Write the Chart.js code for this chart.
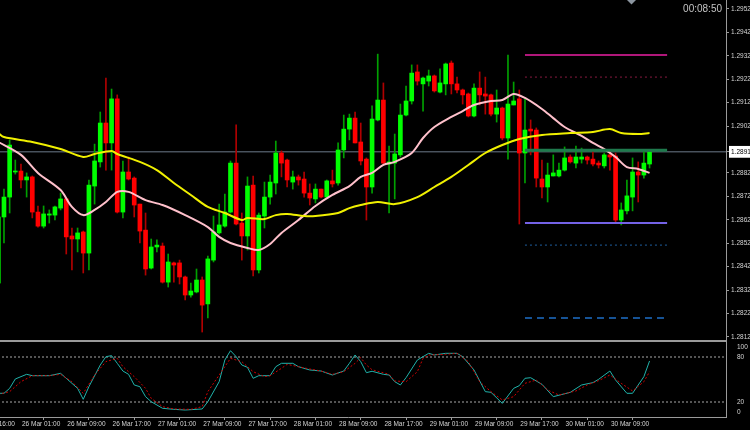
<!DOCTYPE html>
<html lang="en">
<head>
    <meta charset="UTF-8">
    <title>H1 chart</title>
    <script src="https://cdn.jsdelivr.net/npm/chart.js@4.4.1/dist/chart.umd.min.js"></script>
    <style>
        body { margin: 0; background: #000; }
        #wrap { position: relative; width: 750px; height: 430px; overflow: hidden; background: #000; }
        /* canvas is 30px wider on the left so the first, cut-off time label can be drawn */
        #box { position: absolute; left: -30px; top: 0; width: 780px; height: 430px; }
    </style>
</head>
<body>
<div id="wrap"><div id="box"><canvas id="myChart" width="780" height="430"></canvas></div></div>

<script type="text/javascript">

    // hourly candles, bar 0 .. 115
    var opens = [1.28350, 1.28632, 1.28717, 1.28824, 1.28828, 1.28790, 1.28803, 1.28653, 1.28593, 1.28640,
        1.28640, 1.28670, 1.28709, 1.28551, 1.28538, 1.28568, 1.28478, 1.28764, 1.28867, 1.29033,
        1.28948, 1.29136, 1.28653, 1.28824, 1.28798, 1.28687, 1.28576, 1.28414, 1.28504, 1.28508,
        1.28354, 1.28436, 1.28436, 1.28376, 1.28299, 1.28312, 1.28363, 1.28261, 1.28448, 1.28564,
        1.28593, 1.28653, 1.28862, 1.28606, 1.28551, 1.28768, 1.28406, 1.28636, 1.28717, 1.28777,
        1.28905, 1.28875, 1.28781, 1.28803, 1.28794, 1.28734, 1.28709, 1.28751, 1.28717, 1.28786,
        1.28777, 1.28918, 1.29007, 1.29054, 1.28952, 1.28879, 1.28760, 1.29046, 1.29131, 1.28858,
        1.28862, 1.28897, 1.29067, 1.29127, 1.29251, 1.29200, 1.29212, 1.29234, 1.29165, 1.29200,
        1.29289, 1.29200, 1.29174, 1.29157, 1.29063, 1.29182, 1.29157, 1.29153, 1.29071, 1.29097,
        1.28969, 1.29110, 1.29136, 1.28905, 1.29007, 1.29003, 1.28794, 1.28760, 1.28807, 1.28807,
        1.28832, 1.28888, 1.28862, 1.28879, 1.28888, 1.28879, 1.28862, 1.28850, 1.28897, 1.28892,
        1.28619, 1.28658, 1.28717, 1.28824, 1.28811, 1.28858];
    var highs = [1.28653, 1.28751, 1.28961, 1.28875, 1.28858, 1.28820, 1.28807, 1.28679, 1.28679, 1.28662,
        1.28679, 1.28734, 1.28713, 1.28585, 1.28585, 1.28572, 1.28790, 1.28943, 1.29080, 1.29225,
        1.29178, 1.29153, 1.28871, 1.28888, 1.28803, 1.28687, 1.28649, 1.28538, 1.28534, 1.28521,
        1.28474, 1.28440, 1.28448, 1.28380, 1.28350, 1.28410, 1.28376, 1.28465, 1.28636, 1.28687,
        1.28730, 1.28871, 1.29025, 1.28649, 1.28803, 1.28807, 1.28649, 1.28781, 1.28811, 1.28956,
        1.28914, 1.28879, 1.28828, 1.28811, 1.28824, 1.28773, 1.28773, 1.28751, 1.28790, 1.28832,
        1.28948, 1.29067, 1.29071, 1.29080, 1.29033, 1.28884, 1.29106, 1.29327, 1.29204, 1.28935,
        1.28986, 1.29114, 1.29191, 1.29281, 1.29281, 1.29229, 1.29259, 1.29238, 1.29264, 1.29289,
        1.29298, 1.29229, 1.29178, 1.29161, 1.29200, 1.29251, 1.29229, 1.29157, 1.29174, 1.29101,
        1.29323, 1.29208, 1.29174, 1.29136, 1.29046, 1.29012, 1.28875, 1.28862, 1.28897, 1.28862,
        1.28931, 1.28897, 1.28935, 1.28926, 1.28892, 1.28922, 1.28871, 1.28905, 1.28909, 1.28905,
        1.28692, 1.28790, 1.28884, 1.28867, 1.28914, 1.28918];
    var lows = [1.28329, 1.28521, 1.28649, 1.28815, 1.28756, 1.28717, 1.28628, 1.28589, 1.28585, 1.28606,
        1.28619, 1.28662, 1.28474, 1.28406, 1.28483, 1.28393, 1.28406, 1.28687, 1.28845, 1.28832,
        1.28832, 1.28649, 1.28628, 1.28790, 1.28632, 1.28521, 1.28384, 1.28410, 1.28483, 1.28350,
        1.28333, 1.28354, 1.28346, 1.28278, 1.28290, 1.28308, 1.28141, 1.28201, 1.28440, 1.28559,
        1.28589, 1.28649, 1.28598, 1.28448, 1.28491, 1.28380, 1.28393, 1.28585, 1.28687, 1.28730,
        1.28803, 1.28760, 1.28751, 1.28768, 1.28717, 1.28683, 1.28692, 1.28713, 1.28713, 1.28760,
        1.28768, 1.28884, 1.28961, 1.28948, 1.28854, 1.28619, 1.28734, 1.29042, 1.28854, 1.28649,
        1.28709, 1.28888, 1.29063, 1.29114, 1.29195, 1.29084, 1.29191, 1.29165, 1.29161, 1.29153,
        1.29157, 1.29161, 1.29114, 1.29059, 1.29059, 1.29110, 1.29071, 1.29063, 1.29037, 1.28961,
        1.28879, 1.29110, 1.28602, 1.28777, 1.28897, 1.28760, 1.28713, 1.28696, 1.28807, 1.28803,
        1.28828, 1.28862, 1.28841, 1.28862, 1.28858, 1.28850, 1.28841, 1.28841, 1.28832, 1.28611,
        1.28598, 1.28645, 1.28658, 1.28696, 1.28798, 1.28841];
    var closes = [1.28632, 1.28717, 1.28939, 1.28828, 1.28790, 1.28803, 1.28653, 1.28593, 1.28645, 1.28645,
        1.28675, 1.28709, 1.28547, 1.28538, 1.28564, 1.28478, 1.28768, 1.28871, 1.29033, 1.28948,
        1.29136, 1.28653, 1.28824, 1.28794, 1.28683, 1.28572, 1.28410, 1.28504, 1.28512, 1.28354,
        1.28440, 1.28427, 1.28376, 1.28299, 1.28316, 1.28363, 1.28256, 1.28453, 1.28568, 1.28598,
        1.28653, 1.28862, 1.28602, 1.28551, 1.28764, 1.28406, 1.28640, 1.28717, 1.28781, 1.28905,
        1.28862, 1.28790, 1.28803, 1.28790, 1.28734, 1.28713, 1.28751, 1.28717, 1.28786, 1.28773,
        1.28918, 1.29007, 1.29054, 1.28948, 1.28871, 1.28760, 1.29050, 1.29131, 1.28862, 1.28867,
        1.28901, 1.29067, 1.29127, 1.29246, 1.29212, 1.29225, 1.29234, 1.29170, 1.29204, 1.29285,
        1.29200, 1.29174, 1.29153, 1.29063, 1.29182, 1.29153, 1.29148, 1.29071, 1.29097, 1.28969,
        1.29114, 1.29127, 1.28905, 1.29003, 1.28999, 1.28798, 1.28760, 1.28811, 1.28820, 1.28832,
        1.28884, 1.28867, 1.28888, 1.28888, 1.28875, 1.28858, 1.28854, 1.28897, 1.28888, 1.28619,
        1.28662, 1.28722, 1.28824, 1.28811, 1.28862, 1.28909];

    // time axis: label every 8 bars
    var timeLabels = ['23 Mar 16:00', '26 Mar 01:00', '26 Mar 09:00', '26 Mar 17:00', '27 Mar 01:00',
        '27 Mar 09:00', '27 Mar 17:00', '28 Mar 01:00', '28 Mar 09:00', '28 Mar 17:00',
        '29 Mar 01:00', '29 Mar 09:00', '29 Mar 17:00', '30 Mar 01:00', '30 Mar 09:00'];
    var timeLabelBars = [-4, 4, 12, 20, 28, 36, 44, 52, 60, 68, 76, 84, 92, 100, 108];

    var priceTicks = [1.2812, 1.2822, 1.2832, 1.2842, 1.2852, 1.2862, 1.2872, 1.2882,
        1.2902, 1.2912, 1.2922, 1.2932, 1.2942, 1.2952];
    var currentPrice = 1.2891;
    var timerText = '00:08:50';

    // moving averages, read at these bars
    var maSlowBars = [0, 1, 6, 11, 15, 17, 20, 21, 25, 28, 31, 34, 37, 40, 43, 44, 47, 49, 51, 54,
        56, 60, 62, 64, 67, 70, 74, 77, 80, 83, 86, 89, 92, 96, 101, 105, 108, 110, 113, 115];
    var maSlow = [1.28990, 1.28973, 1.28952, 1.28922, 1.28888, 1.28901, 1.28914, 1.28901, 1.28867, 1.28832,
        1.28777, 1.28726, 1.28675, 1.28649, 1.28619, 1.28628, 1.28623, 1.28640, 1.28645, 1.28636,
        1.28636, 1.28649, 1.28670, 1.28683, 1.28696, 1.28687, 1.28717, 1.28760, 1.28803, 1.28854,
        1.28905, 1.28939, 1.28965, 1.28982, 1.28990, 1.28995, 1.29007, 1.28990, 1.28986, 1.28990];
    var maFastBars = [0, 4, 7, 11, 13, 15, 17, 19, 21, 23, 26, 29, 33, 37, 39, 41, 44, 46, 48, 50,
        53, 56, 59, 62, 64, 66, 68, 70, 73, 75, 77, 80, 82, 84, 87, 89, 91, 93, 96, 98,
        100, 103, 105, 107, 109, 111, 113, 115];
    var maFast = [1.28952, 1.28897, 1.28820, 1.28747, 1.28675, 1.28640, 1.28662, 1.28696, 1.28739, 1.28739,
        1.28704, 1.28683, 1.28640, 1.28589, 1.28547, 1.28521, 1.28500, 1.28491, 1.28517, 1.28564,
        1.28619, 1.28679, 1.28726, 1.28764, 1.28803, 1.28820, 1.28854, 1.28867, 1.28905, 1.28969,
        1.29016, 1.29059, 1.29084, 1.29110, 1.29127, 1.29131, 1.29157, 1.29140, 1.29093, 1.29054,
        1.29016, 1.28978, 1.28948, 1.28922, 1.28888, 1.28845, 1.28837, 1.28820];

    // horizontal levels drawn over the last bars
    var levelFrom = 93, levelTo = 118.1;
    var levelPrices = [1.29323, 1.29229, 1.28917, 1.28606, 1.28512, 1.28201];

    // stochastic
    var stochMainBars = [0, 1, 2, 3, 5, 6, 9, 11, 12, 14, 15, 16, 18, 19, 20, 21, 22, 23, 24, 25,
        26, 27, 29, 31, 33, 36, 37, 39, 40, 41, 42, 43, 44, 45, 46, 48, 49, 50, 52, 53,
        55, 57, 59, 61, 62, 63, 64, 65, 66, 68, 69, 70, 71, 72, 74, 76, 77, 79, 81, 82,
        84, 86, 87, 89, 91, 92, 93, 94, 96, 98, 101, 103, 105, 106, 108, 109, 111, 112, 114, 115];
    var stochMain = [31.6, 31.6, 38.2, 50.7, 56.9, 55.1, 55.1, 58.2, 51.6, 38.2, 23.6, 40.4, 69.3, 80.4, 81.8, 71.6, 61.3, 56.9, 42.7, 40.4,
        27.1, 20.4, 11.6, 10.2, 9.3, 10.7, 20.4, 47.1, 76.0, 88.4, 80.4, 69.3, 66.2, 51.6, 55.1, 55.1, 67.1, 71.6, 71.6, 67.1,
        62.7, 61.3, 56.0, 61.3, 71.6, 82.7, 73.8, 59.1, 61.0, 56.9, 56.0, 47.1, 42.7, 52.4, 76.0, 84.9, 82.7, 84.9, 84.9, 80.4,
        62.7, 33.8, 32.9, 18.2, 38.2, 41.8, 51.6, 52.4, 43.6, 27.1, 32.9, 42.7, 45.8, 50.2, 61.3, 49.3, 31.6, 31.6, 53.8, 74.7];
    var stochSignalBars = [0, 2, 4, 6, 9, 11, 13, 15, 17, 19, 21, 22, 24, 26, 27, 29, 31, 34, 36, 37,
        39, 41, 43, 45, 47, 48, 50, 51, 53, 55, 57, 59, 61, 63, 64, 65, 66, 69, 70, 72,
        74, 75, 76, 79, 81, 83, 85, 87, 89, 91, 93, 95, 97, 99, 102, 104, 106, 108, 110, 112, 114, 115];
    var stochSignal = [30.2, 33.8, 47.1, 55.1, 55.1, 56.9, 47.1, 31.6, 56.0, 73.8, 78.2, 67.1, 53.8, 38.2, 24.9, 13.8, 10.7, 10.2, 13.8, 33.8,
        56.0, 78.2, 73.8, 60.4, 53.8, 55.1, 64.9, 70.2, 67.1, 64.0, 61.3, 56.9, 60.4, 71.6, 79.1, 69.3, 63.0, 56.9, 48.0, 47.1,
        60.4, 78.2, 82.7, 83.6, 84.9, 73.8, 47.1, 33.8, 22.7, 27.1, 44.9, 49.3, 36.0, 29.3, 34.7, 42.7, 48.4, 56.0, 44.9, 34.7, 47.1, 60.4];
    var stochLevels = [80, 20];
    var stochTicks = [100, 80, 20, 0];

    var axisFont = {family: 'Liberation Sans', size: 6.5};
    var axisGray = '#9a9a9a';
    var xMin = -5, xMax = 128.5;

    var bars = opens.map(function (o, i) { return i; });
    var isUp = bars.map(function (i) { return closes[i] >= opens[i]; });

    function pts(xs, ys) {
        return xs.map(function (x, i) { return {x: x, y: ys[i]}; });
    }
    function hline(x0, x1, v) {
        return [{x: x0, y: v}, {x: x1, y: v}];
    }
    function lineSet(data, color, width, dash, axis, order) {
        return {
            type: 'line', data: data, borderColor: color, borderWidth: width, borderDash: dash,
            pointRadius: 0, tension: 0, yAxisID: axis, order: order, borderCapStyle: 'butt'
        };
    }
    // no extra room for the end labels, the panes fill the canvas
    function noPad(s) {
        s.paddingTop = 0; s.paddingBottom = 0; s.paddingLeft = 0; s.paddingRight = 0;
    }

    var levelStyles = [
        ['#b0177a', 2, []],
        ['#8a1a40', 1, [2, 3]],
        ['#1f7a4d', 3, []],
        ['#7462e6', 2, []],
        ['#1f5f9f', 1, [2, 3]],
        ['#1e6fc8', 1.5, [7, 5]]
    ];

    var datasets = [
        {
            type: 'bar', data: bars.map(function (i) { return {x: i, y: [opens[i], closes[i]]}; }),
            backgroundColor: isUp.map(function (u) { return u ? '#00ff00' : '#ff0000'; }),
            borderWidth: 0, barThickness: 4, grouped: false, minBarLength: 1, yAxisID: 'y', order: 3
        },
        {
            type: 'bar', data: bars.map(function (i) { return {x: i, y: [lows[i], highs[i]]}; }),
            backgroundColor: isUp.map(function (u) { return u ? '#00a000' : '#b00000'; }),
            borderWidth: 0, barThickness: 1, grouped: false, yAxisID: 'y', order: 4
        },
        lineSet(hline(xMin, xMax, currentPrice), '#6c7a8a', 1, [], 'y', 5),
        Object.assign(lineSet(pts(maSlowBars, maSlow), '#f0f000', 2, [], 'y', 2), {tension: 0.3}),
        Object.assign(lineSet(pts(maFastBars, maFast), '#ffc0cb', 2, [], 'y', 2), {tension: 0.3}),
        lineSet(pts(stochMainBars, stochMain), '#20b2aa', 1, [], 'y2', 2),
        lineSet(pts(stochSignalBars, stochSignal), '#d00000', 1, [2, 2], 'y2', 1)
    ];
    levelPrices.forEach(function (p, i) {
        var s = levelStyles[i];
        datasets.push(lineSet(hline(levelFrom, levelTo, p), s[0], s[1], s[2], 'y', 1));
    });
    stochLevels.forEach(function (v) {
        datasets.push(lineSet(hline(xMin, xMax, v), '#a8a8a8', 1, [2, 2], 'y2', 6));
    });

    // pane separator, countdown timer and the shift marker
    var paneMarks = {
        id: 'paneMarks',
        afterDraw: function (chart) {
            var c = chart.ctx, area = chart.chartArea, yb = chart.scales.y.bottom;
            c.save();
            c.fillStyle = axisGray;
            c.fillRect(area.left, yb, area.right - area.left + 1, 2);
            c.font = '10px "Liberation Sans"';
            c.fillStyle = '#c4c4c4';
            c.textAlign = 'right';
            c.textBaseline = 'middle';
            c.fillText(timerText, 752, 9);
            c.fillStyle = '#8c96a0';
            c.beginPath();
            c.moveTo(657, 0); c.lineTo(666, 0); c.lineTo(661.5, 4.5);
            c.closePath();
            c.fill();
            c.restore();
        }
    };

    var ctx = document.getElementById('myChart').getContext('2d');
    var chart = new Chart(ctx, {
        type: 'bar',
        data: {datasets: datasets},
        plugins: [paneMarks],
        options: {
            responsive: false,
            animation: false,
            events: [],
            layout: {padding: 0},
            plugins: {legend: {display: false}, tooltip: {enabled: false}},
            scales: {
                x: {
                    type: 'linear', min: xMin, max: xMax, offset: false,
                    grid: {drawOnChartArea: false, color: axisGray, tickLength: 3},
                    border: {color: axisGray},
                    ticks: {
                        autoSkip: false, maxRotation: 0, align: 'start', padding: 0, labelOffset: 1,
                        color: '#d4d4d4', font: axisFont,
                        callback: function (v, i) { return timeLabels[i]; }
                    },
                    afterBuildTicks: function (s) {
                        s.ticks = timeLabelBars.map(function (b) { return {value: b}; });
                    },
                    afterFit: function (s) { s.height = 13; noPad(s); }
                },
                y: {
                    position: 'right', stack: 'panes', stackWeight: 340,
                    min: 1.28107, max: 1.29558,
                    grid: {drawOnChartArea: false, color: axisGray, tickLength: 3},
                    border: {color: axisGray},
                    ticks: {
                        autoSkip: false, padding: 2, font: axisFont,
                        color: function (c) { return c.tick && c.tick.value === currentPrice ? '#000' : '#d4d4d4'; },
                        showLabelBackdrop: function (c) { return !!(c.tick && c.tick.value === currentPrice); },
                        backdropColor: '#ffffff',
                        backdropPadding: {top: 2, bottom: 2, left: 2, right: 10},
                        callback: function (v) { return v.toFixed(4); }
                    },
                    afterBuildTicks: function (s) {
                        s.ticks = priceTicks.concat([currentPrice]).map(function (v) { return {value: v}; });
                    },
                    afterFit: function (s) { s.width = 24; noPad(s); }
                },
                y2: {
                    position: 'right', stack: 'panes', stackWeight: 77,
                    min: 0, max: 102.67,
                    grid: {display: false},
                    border: {color: axisGray},
                    ticks: {
                        autoSkip: false, padding: 3, font: axisFont, color: '#d4d4d4',
                        callback: function (v, i) { return String(stochTicks[i]); }
                    },
                    afterBuildTicks: function (s) {
                        // MT4 keeps the end labels inside the pane
                        s.ticks = stochTicks.map(function (v) { return {value: Math.min(Math.max(v, 6.7), 93.3)}; });
                    },
                    afterFit: function (s) { s.width = 24; noPad(s); }
                }
            }
        }
    });
</script>
</body>
</html>
